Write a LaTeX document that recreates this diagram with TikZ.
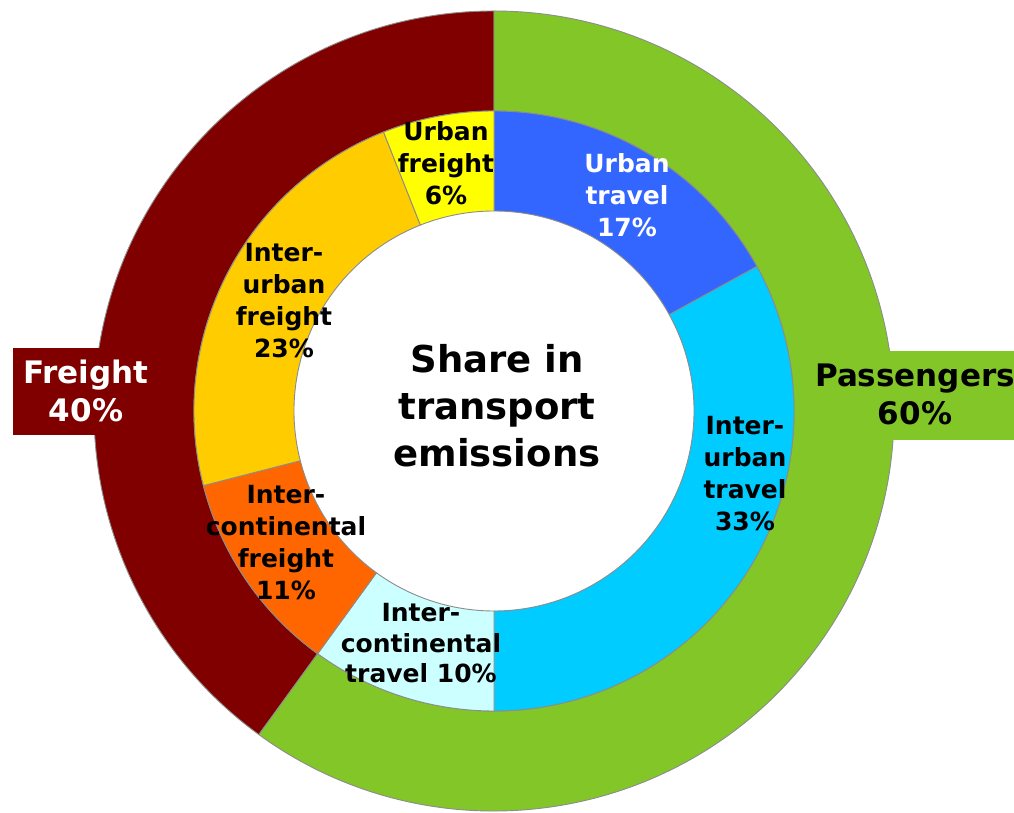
\documentclass[tikz,border=0pt]{standalone}
\usepackage{fontspec}
\setmainfont{DejaVu Sans}
\definecolor{freightc}{HTML}{800000}
\definecolor{passc}{HTML}{82C628}
\definecolor{utravel}{HTML}{3366FF}
\definecolor{itravel}{HTML}{00CCFF}
\definecolor{ctravel}{HTML}{CCFFFF}
\definecolor{cfreight}{HTML}{FF6600}
\definecolor{ifreight}{HTML}{FFCC00}
\definecolor{ufreight}{HTML}{FFFF00}
\definecolor{segline}{HTML}{8C8C8C}
\newcommand\ringseg[5]{%
  \filldraw[fill=#1,draw=segline,line width=0.9pt,line join=round]
    (#2:#4) -- (#2:#5) arc[start angle=#2,end angle=#3,radius=#5]
    -- (#3:#4) arc[start angle=#3,end angle=#2,radius=#4] -- cycle;}
\tikzset{
  inlabel/.style={font=\bfseries\fontsize{25}{32}\selectfont,align=center,inner sep=0pt,text=black},
  outlabel/.style={font=\bfseries\fontsize{31}{38}\selectfont,align=center,inner sep=0pt},
  titlelabel/.style={font=\bfseries\fontsize{37}{47}\selectfont,align=center,inner sep=0pt,text=black},
  tagbox/.style={draw=none}
}
\begin{document}
\begin{tikzpicture}[x=1pt,y=1pt]
\useasboundingbox (0,0) rectangle (1014,813);
\clip (0,0) rectangle (1014,813);
\fill[white] (0,0) rectangle (1014,813);
\begin{scope}[shift={(494,402)}]
  % outer ring
  \ringseg{freightc}{90}{234}{300pt}{400pt}
  \ringseg{passc}{-126}{90}{300pt}{400pt}
  % inner ring
  \ringseg{utravel}{28.8}{90}{200pt}{300pt}
  \ringseg{itravel}{-90}{28.8}{200pt}{300pt}
  \ringseg{ctravel}{-126}{-90}{200pt}{300pt}
  \ringseg{cfreight}{194.4}{234}{200pt}{300pt}
  \ringseg{ifreight}{111.6}{194.4}{200pt}{300pt}
  \ringseg{ufreight}{90}{111.6}{200pt}{300pt}
\end{scope}
% tag boxes
\fill[freightc,tagbox] (13,378) rectangle (150,465);
\fill[passc,tagbox] (850,373) rectangle (1014,462);
% labels
\node[outlabel,text=white] (freight) at (86,422) {Freight\\40\%};
\node[outlabel,text=black] (pass) at (915,419) {Passengers\\60\%};
\node[titlelabel] (title) at (497,407) {Share in\\transport\\emissions};
\node[inlabel] (uf) at (446,649.5) {Urban\\freight\\6\%};
\node[inlabel] (if) at (284,512) {Inter-\\urban\\freight\\23\%};
\node[inlabel] (cf) at (286,270.5) {Inter-\\continental\\freight\\11\%};
\node[inlabel,font=\bfseries\fontsize{25}{30.5}\selectfont] (ct) at (421,169.5) {Inter-\\continental\\travel 10\%};
\node[inlabel,text=white] (ut) at (627,617.5) {Urban\\travel\\17\%};
\node[inlabel] (it) at (745,339.5) {Inter-\\urban\\travel\\33\%};
\end{tikzpicture}
\end{document}
